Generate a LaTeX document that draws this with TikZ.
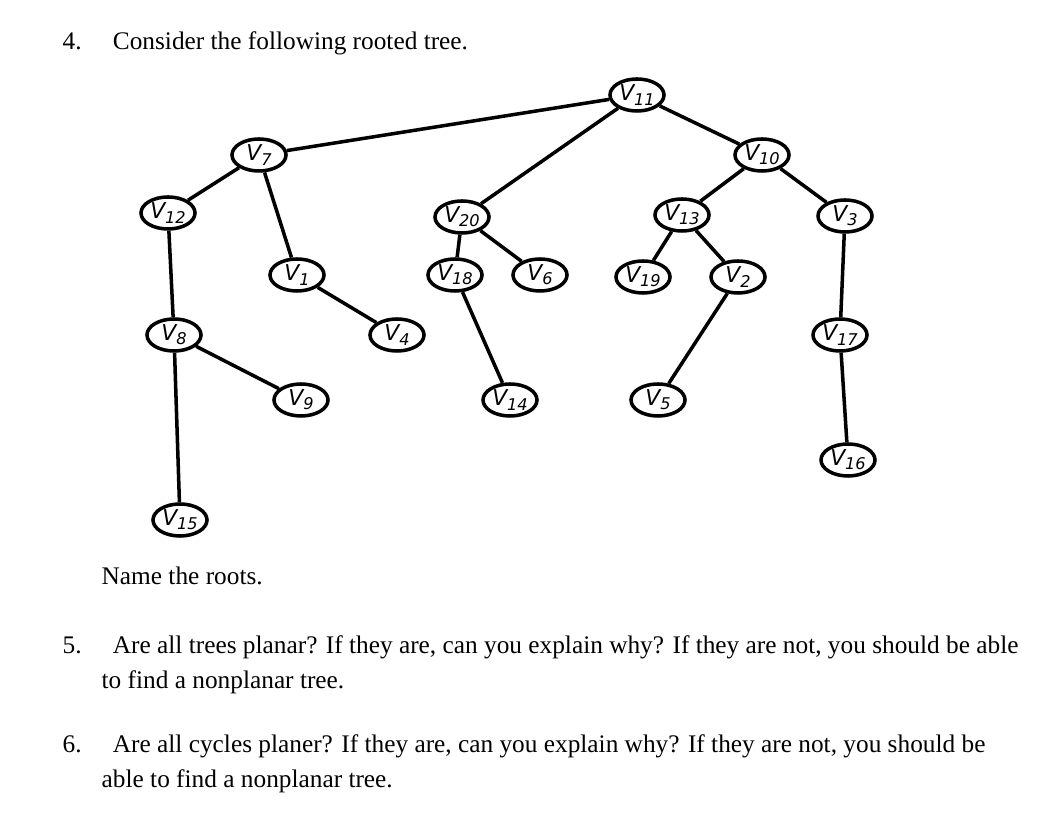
\documentclass[tikz,border=0pt]{standalone}
\usepackage{fontspec}
\usetikzlibrary{shapes.geometric}
\setmainfont{Liberation Serif}
\newfontfamily\vfont{DejaVu Sans}
\newcommand{\vlab}[1]{V\raisebox{-0.35ex}{\fontsize{4.6pt}{5pt}\selectfont #1}}
\begin{document}
\begin{tikzpicture}[x=0.01cm,y=-0.01cm,
 vtx/.style={draw,line width=1pt,ellipse,minimum width=0.54cm,minimum height=0.32cm,inner sep=0pt,font=\vfont\fontsize{6.2pt}{6pt}\selectfont\itshape},
 edge/.style={line width=1pt},
 txt/.style={anchor=base west,inner sep=0pt,font=\fontsize{7.2pt}{8pt}\selectfont}]
\useasboundingbox (0,0) rectangle (1042,828);
\fill[white] (0,0) rectangle (1042,828);
\node[txt] (t4) at (62,50) {4.\hspace{0.9em} Consider the following rooted tree.};
\node[txt] (tr) at (101,585) {Name the roots.};
\node[txt] (t5) at (62,654) {5.\hspace{0.9em} Are all trees planar? If they are, can you explain why? If they are not, you should be able};
\node[txt] (t5b) at (101,689) {to find a nonplanar tree.};
\node[txt] (t6) at (62,753) {6.\hspace{0.9em} Are all cycles planer? If they are, can you explain why? If they are not, you should be};
\node[txt] (t6b) at (101,788) {able to find a nonplanar tree.};
\foreach \n/\x/\y in {11/637/95,7/259/155,10/762/155,12/168/213,20/462/217,13/682/215,3/845/216,1/297/275,18/455/275,6/540/275,19/643/277,2/738/277,8/174/335,4/397/335,17/840/335,9/301/400,14/510/400,5/658/400,16/848/460,15/180/520}
  \node[vtx] (v\n) at (\x,\y) {\vlab{\n}};
\foreach \a/\b in {11/7,11/20,11/10,7/12,7/1,12/8,8/9,8/15,1/4,20/18,20/6,18/14,10/13,10/3,13/19,13/2,2/5,3/17,17/16}
  \draw[edge] (v\a) -- (v\b);
\end{tikzpicture}
\end{document}
